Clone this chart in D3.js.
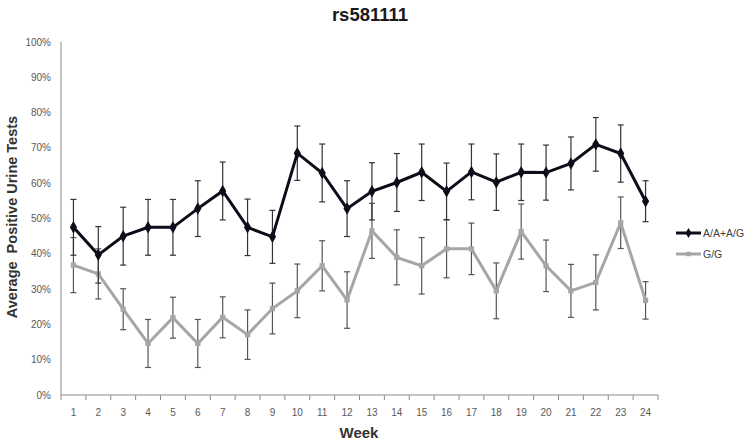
<!DOCTYPE html>
<html>
<head>
<meta charset="utf-8">
<script src="https://cdn.jsdelivr.net/npm/d3@7"></script>
<style>
  body { margin: 0; background: #fff; }
  svg text { font-family: "Liberation Sans", Arial, sans-serif; }
</style>
</head>
<body>
<div id="chart"></div>
<script>
// data (% positive urine tests)
const weeks = d3.range(1, 25);
const yTicks = [0, 10, 20, 30, 40, 50, 60, 70, 80, 90, 100];
const seriesNames = ["A/A+A/G", "G/G"];

const aaValues = [47.5, 39.7, 45, 47.5, 47.5, 52.8, 57.8, 47.5, 44.8, 68.5, 62.9, 52.8,
  57.7, 60.2, 63.1, 57.7, 63.2, 60.3, 63.1, 63, 65.6, 71, 68.4, 54.9];
const aaErr = [7.9, 8, 8.2, 7.9, 7.9, 7.9, 8.2, 8, 7.5, 7.7, 8.2, 7.9,
  8.1, 8.2, 8, 8, 7.9, 8, 8, 7.8, 7.5, 7.6, 8.1, 5.8];

const ggValues = [36.8, 34.3, 24.3, 14.6, 21.9, 14.6, 22, 17.1, 24.5, 29.5, 36.6, 26.9,
  46.5, 39, 36.6, 41.4, 41.4, 29.5, 46.3, 36.6, 29.5, 31.9, 48.8, 26.8];
const ggErr = [7.8, 7.1, 5.8, 6.8, 5.8, 6.8, 5.8, 7, 7.2, 7.6, 7.1, 8,
  7.8, 7.8, 8, 8.2, 7.3, 7.9, 7.8, 7.3, 7.5, 7.8, 7.3, 5.3];

const width = 750, height = 444;
const margin = { top: 42, right: 92, bottom: 49, left: 61 };

const svg = d3.select("#chart").append("svg")
  .attr("width", width)
  .attr("height", height);

const x = d3.scaleBand()
  .domain(weeks)
  .range([margin.left, width - margin.right]);

const y = d3.scaleLinear()
  .domain([0, 100])
  .range([height - margin.bottom, margin.top]);

// title
svg.append("text")
  .attr("x", 370)
  .attr("y", 21)
  .attr("text-anchor", "middle")
  .style("font-size", "18.5px")
  .style("font-weight", "bold")
  .attr("fill", "#1a1a1a")
  .text("rs581111");

// y axis
svg.append("line")
  .attr("x1", margin.left).attr("x2", margin.left)
  .attr("y1", y(100)).attr("y2", y(0))
  .attr("stroke", "#8c8c8c");

svg.append("g")
  .selectAll("text")
  .data(yTicks)
  .enter().append("text")
  .attr("x", margin.left - 10)
  .attr("y", d => y(d))
  .attr("dy", "0.35em")
  .attr("text-anchor", "end")
  .style("font-size", "10px")
  .attr("fill", "#595959")
  .text(d => d + "%");

// x axis
svg.append("line")
  .attr("x1", margin.left).attr("x2", width - margin.right)
  .attr("y1", y(0)).attr("y2", y(0))
  .attr("stroke", "#8c8c8c");

const bounds = weeks.map(w => x(w)).concat([x(weeks[weeks.length - 1]) + x.bandwidth()]);
svg.append("g")
  .selectAll("line")
  .data(bounds)
  .enter().append("line")
  .attr("x1", d => d).attr("x2", d => d)
  .attr("y1", y(0)).attr("y2", y(0) + 5)
  .attr("stroke", "#8c8c8c");

svg.append("g")
  .selectAll("text")
  .data(weeks)
  .enter().append("text")
  .attr("x", d => x(d) + x.bandwidth() / 2)
  .attr("y", y(0) + 21)
  .attr("text-anchor", "middle")
  .style("font-size", "10px")
  .attr("fill", "#595959")
  .text(d => d);

// axis titles
svg.append("text")
  .attr("x", 359)
  .attr("y", 438)
  .attr("text-anchor", "middle")
  .style("font-size", "15px")
  .style("font-weight", "bold")
  .attr("fill", "#333")
  .text("Week");

svg.append("text")
  .attr("transform", "translate(17,217)rotate(-90)")
  .attr("text-anchor", "middle")
  .style("font-size", "14.5px")
  .style("font-weight", "bold")
  .style("white-space", "pre")
  .attr("fill", "#333")
  .text("Average  Positive Urine Tests");

const cx = w => x(w) + x.bandwidth() / 2;

function drawSeries(values, errs, color, errColor, shape) {
  const g = svg.append("g");
  const pts = weeks.map((w, i) => ({ w: w, v: values[i], e: errs[i] }));

  // error bars
  const eb = g.append("g").selectAll("g").data(pts).enter().append("g")
    .attr("stroke", errColor).attr("stroke-width", 1.2);
  eb.append("line")
    .attr("x1", d => cx(d.w)).attr("x2", d => cx(d.w))
    .attr("y1", d => y(d.v - d.e)).attr("y2", d => y(d.v + d.e));
  eb.append("line")
    .attr("x1", d => cx(d.w) - 3).attr("x2", d => cx(d.w) + 3)
    .attr("y1", d => y(d.v + d.e)).attr("y2", d => y(d.v + d.e));
  eb.append("line")
    .attr("x1", d => cx(d.w) - 3).attr("x2", d => cx(d.w) + 3)
    .attr("y1", d => y(d.v - d.e)).attr("y2", d => y(d.v - d.e));

  // line
  g.append("path")
    .datum(pts)
    .attr("fill", "none")
    .attr("stroke", color)
    .attr("stroke-width", 3)
    .attr("d", d3.line().x(d => cx(d.w)).y(d => y(d.v)));

  // markers
  g.append("g").selectAll("path").data(pts).enter().append("path")
    .attr("transform", d => "translate(" + cx(d.w) + "," + y(d.v) + ")")
    .attr("d", d3.symbol().type(shape).size(shape === d3.symbolDiamond ? 45 : 28))
    .attr("fill", color);
}

drawSeries(ggValues, ggErr, "#a6a6a6", "#555", d3.symbolSquare);
drawSeries(aaValues, aaErr, "#0d0d1a", "#333", d3.symbolDiamond);

// legend
const legend = svg.append("g");
const legendItems = [
  { name: seriesNames[0], color: "#0d0d1a", shape: d3.symbolDiamond, y: 233 },
  { name: seriesNames[1], color: "#a6a6a6", shape: d3.symbolSquare, y: 254 }
];
const li = legend.selectAll("g").data(legendItems).enter().append("g");
li.append("line")
  .attr("x1", 676).attr("x2", 701)
  .attr("y1", d => d.y).attr("y2", d => d.y)
  .attr("stroke", d => d.color)
  .attr("stroke-width", 3);
li.append("path")
  .attr("transform", d => "translate(688.5," + d.y + ")")
  .attr("d", d => d3.symbol().type(d.shape).size(d.shape === d3.symbolDiamond ? 30 : 20)())
  .attr("fill", d => d.color);
li.append("text")
  .attr("x", 703)
  .attr("y", d => d.y)
  .attr("dy", "0.35em")
  .style("font-size", "10.5px")
  .attr("fill", "#404040")
  .text(d => d.name);
</script>
</body>
</html>
